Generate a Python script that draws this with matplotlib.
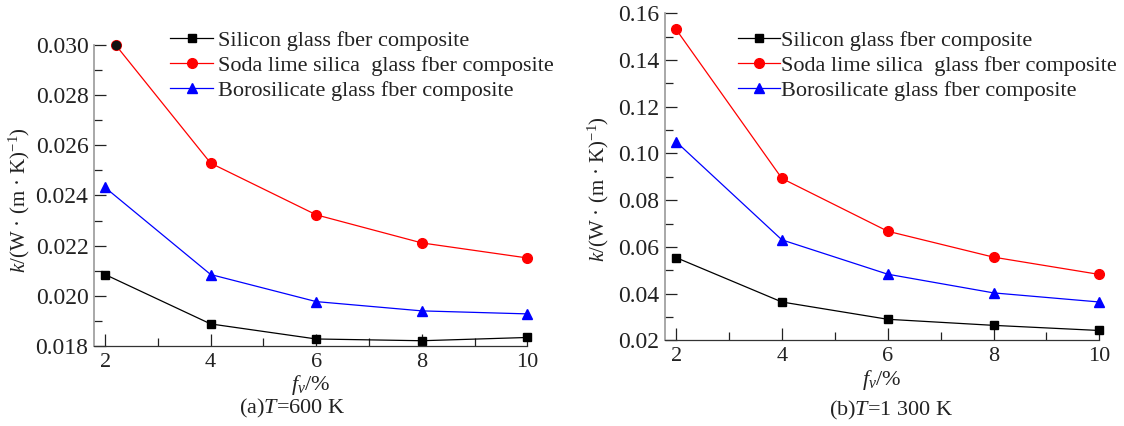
import matplotlib
matplotlib.use("Agg")
import matplotlib.pyplot as plt
from matplotlib.ticker import MultipleLocator, FormatStrFormatter

plt.rcParams['font.family'] = ['Liberation Serif', 'DejaVu Serif']
plt.rcParams['mathtext.fontset'] = 'custom'
plt.rcParams['mathtext.rm'] = 'Liberation Serif'
plt.rcParams['mathtext.it'] = 'Liberation Serif:italic'

# data
fv = [2, 4, 6, 8, 10]
labels = ["Silicon glass fber composite",
          "Soda lime silica  glass fber composite",
          "Borosilicate glass fber composite"]

# (a) T = 600 K
silicon_a = [0.02085, 0.01888, 0.01828, 0.01821, 0.01834]
soda_x_a = [2.2, 4, 6, 8, 10]
soda_a = [0.0300, 0.02529, 0.02323, 0.02211, 0.02151]
boro_a = [0.02432, 0.02085, 0.01977, 0.01940, 0.01928]

# (b) T = 1300 K
silicon_b = [0.0554, 0.0364, 0.0290, 0.0264, 0.0242]
soda_b = [0.1531, 0.0893, 0.0667, 0.0556, 0.0482]
boro_b = [0.1050, 0.0630, 0.0483, 0.0403, 0.0364]

fig = plt.figure(figsize=(11.24, 4.26), dpi=100)
ax1 = fig.add_axes([0.08363, 0.18779, 0.3855, 0.7066])
ax2 = fig.add_axes([0.59164, 0.20117, 0.38639, 0.76761])

ylab = r"$k$/(W · (m · K)$^{-1}$)"


def style(ax, ylim, ymaj, ymin, fmt):
    ax.set_xlim(1.79, 10)
    ax.set_ylim(*ylim)
    for s in ['top', 'right']:
        ax.spines[s].set_visible(False)
    ax.spines['left'].set_color('#999999')
    ax.spines['left'].set_linewidth(1.2)
    ax.spines['bottom'].set_color('#333333')
    ax.spines['bottom'].set_linewidth(0.9)
    ax.xaxis.set_major_locator(MultipleLocator(2))
    ax.xaxis.set_minor_locator(MultipleLocator(1))
    ax.yaxis.set_major_locator(MultipleLocator(ymaj))
    ax.yaxis.set_minor_locator(MultipleLocator(ymin))
    ax.yaxis.set_major_formatter(FormatStrFormatter(fmt))
    ax.tick_params(which='major', direction='in', length=8.5, width=0.9,
                   pad=4, color='#222222', labelcolor='#222222')
    ax.tick_params(which='minor', direction='in', length=6, width=0.9,
                   color='#222222')
    ax.tick_params(axis='y', which='major', labelsize=17)
    ax.tick_params(axis='x', which='major', labelsize=16, pad=5)
    ax.set_ylabel(ylab, fontsize=15, color='#222222')
    ax.set_xlabel(r"$f_v$/%", fontsize=16, color='#222222', labelpad=1)


def draw(ax, silicon, soda_x, soda, boro):
    ax.plot(fv, silicon, color='black', lw=0.9, marker='s', ms=6,
            label=labels[0], clip_on=False)
    ax.plot(soda_x, soda, color='red', lw=0.9, marker='o', ms=7,
            label=labels[1], clip_on=False)
    ax.plot(fv, boro, color='blue', lw=0.9, marker='^', ms=7,
            label=labels[2], clip_on=False)


draw(ax1, silicon_a, soda_x_a, soda_a, boro_a)
ax1.plot(soda_x_a[:1], soda_a[:1], 'o', color='#111111', ms=6, zorder=5,
         clip_on=False)
style(ax1, (0.018, 0.030), 0.002, 0.001, '%.3f')
ax1.yaxis.set_label_coords(-0.143, 0.485)

draw(ax2, silicon_b, fv, soda_b, boro_b)
style(ax2, (0.02, 0.16), 0.02, 0.01, '%.2f')
ax2.yaxis.set_label_coords(-0.124, 0.463)

for ax, anchor, tpad in [(ax1, (0.1477, 0.939), 0.22), (ax2, (0.6524, 0.939), 0.05)]:
    leg = ax.legend(loc='upper left', bbox_to_anchor=anchor,
                    bbox_transform=fig.transFigure, fontsize=16,
                    frameon=True, facecolor='white', edgecolor='none',
                    framealpha=1, handlelength=1.9, handletextpad=tpad,
                    labelspacing=0.2, borderpad=0.2, borderaxespad=0)
    for t in leg.get_texts():
        t.set_color('#222222')

fig.text(0.260, 1 - 408 / 426, "(a)$T$=600 K", fontsize=16, ha='center',
         va='center', color='#222222')
fig.text(0.793, 1 - 410 / 426, "(b)$T$=1 300 K", fontsize=16, ha='center',
         va='center', color='#222222')

fig.savefig("out.png", dpi=100)
